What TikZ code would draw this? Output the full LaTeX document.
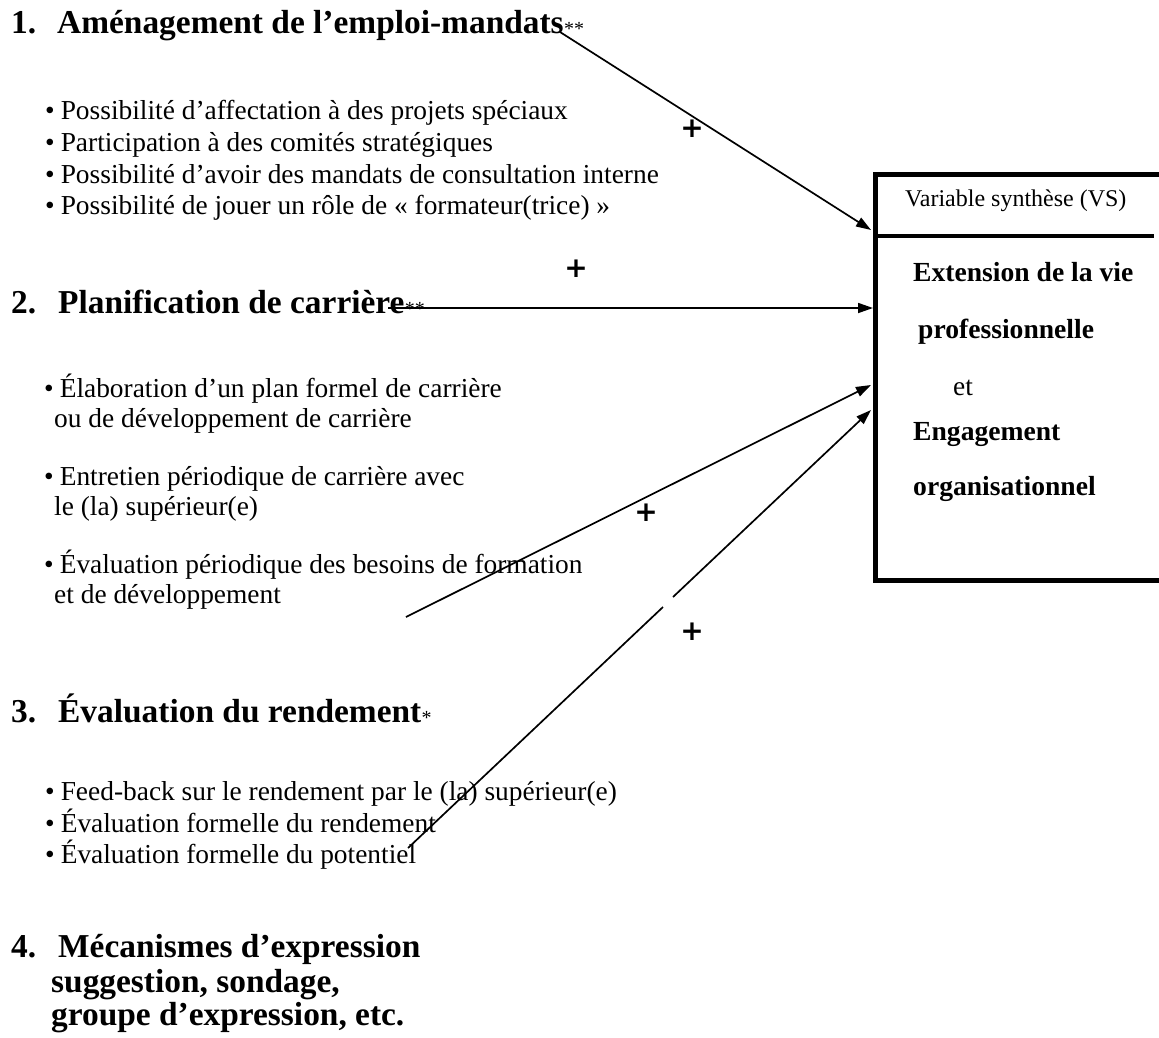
\documentclass[tikz,border=0pt]{standalone}
\usepackage{fontspec}
\setmainfont{Liberation Serif}
\newfontfamily\plusfont{DejaVu Sans}
\usetikzlibrary{arrows.meta}
\begin{document}
\begin{tikzpicture}[x=1pt,y=-1pt,
  title/.style={anchor=base west, inner sep=0, font=\fontsize{33.4}{40}\selectfont\bfseries},
  body/.style={anchor=base west, inner sep=0, font=\fontsize{27.4}{33}\selectfont},
  boxbold/.style={anchor=base west, inner sep=0, font=\fontsize{27.6}{33}\selectfont\bfseries},
  star/.style={anchor=base west, inner sep=0, yshift=-2pt, font=\fontsize{20}{24}\selectfont},
  plus/.style={inner sep=0, font=\plusfont\bfseries\fontsize{28}{32}\selectfont},
  arr/.style={line width=1.7pt, -{Triangle[length=15pt,width=10pt]}},
  ln/.style={line width=1.7pt},
  thick box/.style={draw, line width=4.5pt}]
\useasboundingbox (0,0) rectangle (1159,1037);
\clip (0,0) rectangle (1159,1037);

% --- box ---
\node[thick box, anchor=north west, inner sep=0, minimum width=307pt, minimum height=406pt] (vs) at (873,172) {};
\coordinate (divR) at (1154,236);
\draw[line width=4.5pt] (vs.west |- divR) -- (divR);
\node[anchor=base west, inner sep=0, font=\fontsize{24}{28}\selectfont] (vslab) at (905,206) {Variable synthèse (VS)};
\node[boxbold] (b1) at (913,281) {Extension de la vie};
\node[boxbold] (b2) at (918,338) {professionnelle};
\node[body] (b3) at (953,395) {et};
\node[boxbold] (b4) at (913,440) {Engagement};
\node[boxbold] (b5) at (913,495) {organisationnel};

% --- section 1 ---
\node[title] (n1) at (11,33) {1.};
\node[title] (t1) at (57,33) {Aménagement de l’emploi-mandats};
\node[star] (s1) at (t1.base east) {**};
\node[body] (p11) at (45,119) {\textbullet\hspace{6pt}Possibilité d’affectation à des projets spéciaux};
\node[body] (p12) at (45,151) {\textbullet\hspace{6pt}Participation à des comités stratégiques};
\node[body] (p13) at (45,183) {\textbullet\hspace{6pt}Possibilité d’avoir des mandats de consultation interne};
\node[body] (p14) at (45,214) {\textbullet\hspace{6pt}Possibilité de jouer un rôle de « formateur(trice) »};

% --- section 2 ---
\node[title] (n2) at (11,313) {2.};
\node[title] (t2) at (58,313) {Planification de carrière};
\node[star] (s2) at (t2.base east) {**};
\node[body] (p21) at (44,397) {\textbullet\hspace{6pt}Élaboration d’un plan formel de carrière};
\node[body] (p21b) at (54,427) {ou de développement de carrière};
\node[body] (p22) at (44,485) {\textbullet\hspace{6pt}Entretien périodique de carrière avec};
\node[body] (p22b) at (54,515) {le (la) supérieur(e)};
\node[body] (p23) at (44,573) {\textbullet\hspace{6pt}Évaluation périodique des besoins de formation};
\node[body] (p23b) at (54,603) {et de développement};

% --- section 3 ---
\node[title] (n3) at (11,722) {3.};
\node[title] (t3) at (58,722) {Évaluation du rendement};
\node[star] (s3) at (t3.base east) {*};
\node[body] (p31) at (45,800) {\textbullet\hspace{6pt}Feed-back sur le rendement par le (la) supérieur(e)};
\node[body] (p32) at (45,832) {\textbullet\hspace{6pt}Évaluation formelle du rendement};
\node[body] (p33) at (45,863) {\textbullet\hspace{6pt}Évaluation formelle du potentiel};

% --- section 4 ---
\node[title] (n4) at (11,957) {4.};
\node[title] (t4) at (58,957) {Mécanismes d’expression};
\node[title] (t4b) at (51,992) {suggestion, sondage,};
\node[title] (t4c) at (51,1025) {groupe d’expression, etc.};

% --- plus signs ---
\node[plus] (pl1) at (692,129) {+};
\node[plus] (pl2) at (576,269) {+};
\node[plus] (pl3) at (646,513) {+};
\node[plus] (pl4) at (692,632) {+};

% --- connectors ---
\coordinate (a1s) at (560,32);
\coordinate (a1e) at (871,230);
\coordinate (a2s) at (388,308);
\coordinate (a2e) at (873,308);
\coordinate (a3s) at (406,617);
\coordinate (a3e) at (871,385);
\coordinate (a4s) at (408,848);
\coordinate (a4m1) at (663,607);
\coordinate (a4m2) at (673,597);
\coordinate (a4e) at (871,410);
\draw[arr] (a1s) -- (a1e);
\draw[arr] (a2s) -- (a2e);
\draw[arr] (a3s) -- (a3e);
\draw[ln] (a4s) -- (a4m1);
\draw[arr] (a4m2) -- (a4e);
\end{tikzpicture}
\end{document}
